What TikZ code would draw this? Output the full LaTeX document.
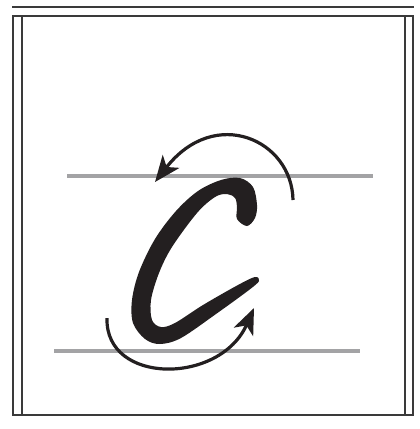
\documentclass[tikz,border=0pt]{standalone}
\usetikzlibrary{arrows.meta}
\definecolor{ink}{HTML}{231F20}
\definecolor{frame}{HTML}{3A3A3A}
\definecolor{guide}{HTML}{A3A3A5}
\tikzset{
  frameline/.style={draw=frame, line width=2pt},
  guideline/.style={draw=guide, line width=4pt},
  strokearrow/.style={draw=ink, line width=3.2pt, -{Stealth[length=26pt,width=21pt,inset=7pt]}},
}
\begin{document}
\begin{tikzpicture}[x=1pt,y=-1pt]
\useasboundingbox (0,0) rectangle (420,429);
% frame
\draw[frameline] (12,6.5) -- (414,6.5);
\draw[frameline] (13,15.5) rectangle (413,415);
\draw[frameline] (22,15.5) -- (22,415);
\draw[frameline] (405,15.5) -- (405,415);
% guide lines
\draw[guideline] (67,176) -- (373,176);
\draw[guideline] (54,351) -- (360,351);
% letter C
\fill[ink] plot[smooth cycle, tension=0.55] coordinates {
 (247,226) (255,218) (257,205) (253,187) (240,178) (221,180) (198,191)
 (176,211) (155,239) (139,272) (132,300) (133,323) (145,339) (160,344)
 (181,338) (216,314) (249,290) (259,281)
 (255,277) (238,285) (203,305) (175,323) (161,327) (152,320) (151,300)
 (159,273) (172,247) (197,213) (215,197) (227,194) (235,198) (237,207) (237,219)
};
% arrows
\coordinate (a1s) at (293,200);
\coordinate (a1e) at (155,182);
\draw[strokearrow] (a1s) .. controls (292,140) and (215,105) .. (a1e);
\coordinate (a2s) at (107,318);
\coordinate (a2e) at (254,308);
\draw[strokearrow] (a2s) .. controls (105,385) and (220,385) .. (a2e);
\end{tikzpicture}
\end{document}
